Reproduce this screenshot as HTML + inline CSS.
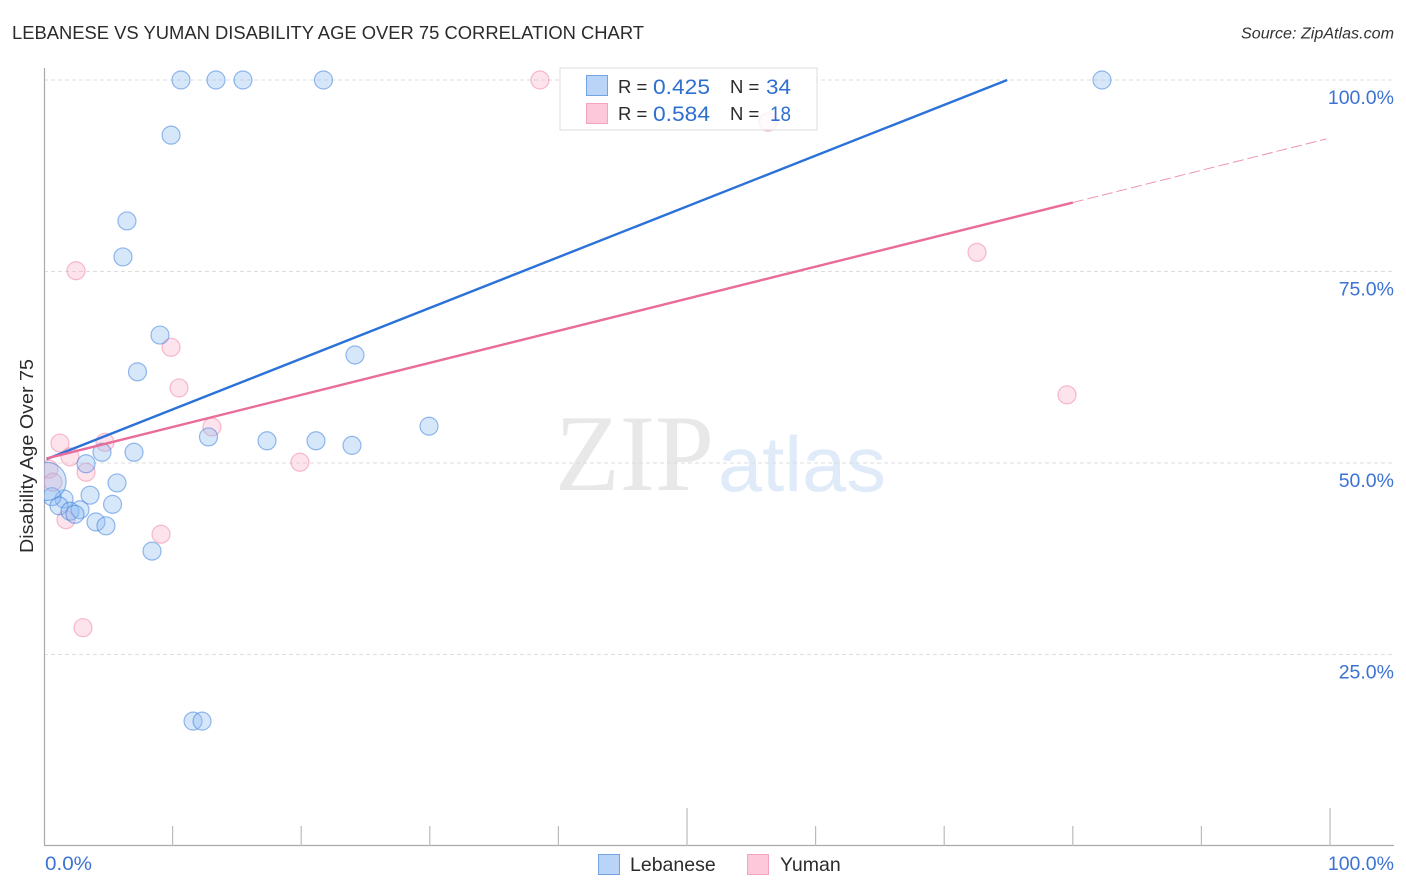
<!DOCTYPE html>
<html lang="en">
<head>
<meta charset="utf-8">
<title>Lebanese vs Yuman Disability Age Over 75 Correlation Chart</title>
<style>
html,body{margin:0;padding:0;background:#fff;}
svg{display:block;font-family:"Liberation Sans",sans-serif;}
</style>
</head>
<body>
<svg id="chart" width="1406" height="892" viewBox="0 0 1406 892" xmlns="http://www.w3.org/2000/svg">
  <defs><clipPath id="plot-clip"><rect x="44" y="60" width="1350" height="786"/></clipPath></defs>
  <text x="12" y="39" font-size="18.6" fill="#2b2b2b" textLength="632" lengthAdjust="spacingAndGlyphs">LEBANESE VS YUMAN DISABILITY AGE OVER 75 CORRELATION CHART</text>
  <text x="1241" y="38.5" font-size="15.5" font-style="italic" fill="#333" textLength="153" lengthAdjust="spacingAndGlyphs">Source: ZipAtlas.com</text>
  <g>
    <text x="555" y="490" font-family="'Liberation Serif',serif" font-size="109" fill="#e8e8e8" textLength="159" lengthAdjust="spacingAndGlyphs">ZIP</text>
    <text x="718" y="491" font-size="78" fill="#e0ebfa" textLength="168" lengthAdjust="spacingAndGlyphs">atlas</text>
  </g>
  <g id="grid"></g>
  <g id="axes"></g>
  <g id="points" clip-path="url(#plot-clip)"></g>
  <g id="trends" clip-path="url(#plot-clip)"></g>
  <text transform="translate(33,456) rotate(-90)" font-size="18" fill="#2b2b2b" text-anchor="middle" textLength="194" lengthAdjust="spacingAndGlyphs">Disability Age Over 75</text>
  <g>
    <rect x="560" y="68" width="257" height="62" fill="#fff" fill-opacity="0.8" stroke="#dcdcdc" stroke-width="1"/>
    <rect x="586.5" y="75.5" width="21" height="20" fill="#b9d4f6" stroke="#72a3e3" stroke-width="1"/>
    <rect x="586.5" y="103.5" width="21" height="20" fill="#fcc8da" stroke="#f3a5bf" stroke-width="1"/>
    <text x="618" y="93" font-size="18.5" fill="#2b2b2b">R =</text>
    <text x="653" y="94" font-size="21" fill="#2f6fd0" textLength="57" lengthAdjust="spacingAndGlyphs">0.425</text>
    <text x="730" y="93" font-size="18.5" fill="#2b2b2b">N =</text>
    <text x="766" y="94" font-size="21" fill="#2f6fd0" textLength="25" lengthAdjust="spacingAndGlyphs">34</text>
    <text x="618" y="120" font-size="18.5" fill="#2b2b2b">R =</text>
    <text x="653" y="121" font-size="21" fill="#2f6fd0" textLength="57" lengthAdjust="spacingAndGlyphs">0.584</text>
    <text x="730" y="120" font-size="18.5" fill="#2b2b2b">N =</text>
    <text x="770" y="121" font-size="21" fill="#2f6fd0" textLength="21" lengthAdjust="spacingAndGlyphs">18</text>
  </g>
  <g>
    <rect x="598.5" y="854.5" width="21" height="20" fill="#b9d4f6" stroke="#72a3e3" stroke-width="1"/>
    <text x="630" y="871" font-size="19.5" fill="#2b2b2b">Lebanese</text>
    <rect x="747.5" y="854.5" width="21" height="20" fill="#fcc8da" stroke="#f3a5bf" stroke-width="1"/>
    <text x="780" y="871" font-size="19.5" fill="#2b2b2b">Yuman</text>
  </g>
</svg>
<script>
const lebaneseX = [10.65,13.37,15.47,21.73,82.27,9.88,6.45,6.14,9.02,24.18,7.27,29.94,12.79,17.34,21.15,23.95,4.51,7.0,3.27,5.68,3.58,1.56,0.62,1.17,5.33,2.02,2.8,2.41,4.04,4.82,8.4,11.59,12.29,0.23];
const lebaneseY = [100,100,100,100,100,92.8,81.6,76.9,66.7,64.1,61.9,54.8,53.4,52.9,52.9,52.3,51.4,51.4,49.9,47.4,45.8,45.3,45.6,44.4,44.6,43.7,43.9,43.3,42.3,41.8,38.5,16.3,16.3,47.6];
const lebaneseWeight = [1,1,1,1,1,1,1,1,1,1,1,1,1,1,1,1,1,1,1,1,1,1,1,1,1,1,1,1,1,1,1,1,1,4.5];
const yumanX = [1.24,4.74,2.02,3.27,0.39,0.7,1.71,13.06,9.1,3.03,2.49,9.88,10.5,19.9,38.57,56.3,72.55,79.55];
const yumanY = [52.6,52.7,50.8,48.8,49.2,47.5,42.6,54.7,40.7,28.5,75.1,65.1,59.8,50.1,100,94.5,77.5,58.9];
const lebaneseTrendX = [0.2,74.9];
const lebaneseTrendY = [50.5,100];
const yumanTrendX = [0.2,80];
const yumanTrendY = [50.6,84];
const yumanForecastX = [80,99.7];
const yumanForecastY = [84,92.3];
const yTicks = [100,75,50,25];
const yTickLabels = ['100.0%','75.0%','50.0%','25.0%'];
const xTicks = [10,20,30,40,50,60,70,80,90,100];
const xMajorTicks = [50,100];
const xEndLabels = ['0.0%','100.0%'];

const NS = 'http://www.w3.org/2000/svg';
const xScale = v => 44 + v * 12.86;
const yScale = v => 846 - v * 7.66;
function make(parent, tag, attrs) {
  const el = document.createElementNS(NS, tag);
  for (const k in attrs) el.setAttribute(k, attrs[k]);
  parent.appendChild(el);
  return el;
}
const grid = document.getElementById('grid');
const axes = document.getElementById('axes');
const points = document.getElementById('points');
const trends = document.getElementById('trends');

yTicks.forEach((t, i) => {
  const line = make(grid, 'line', {x1: 44, x2: 1394, y1: yScale(t), y2: yScale(t), stroke: '#dddddd', 'stroke-width': 1, 'stroke-dasharray': '4 3'});
  
  
  const label = make(axes, 'text', {x: 1394, y: yScale(t) + 24, 'font-size': 19.5, fill: '#3b72d3', 'text-anchor': 'end'});
  
  
  label.textContent = yTickLabels[i];
});

const yAxis = make(axes, 'line', {x1: 44.5, x2: 44.5, y1: 68, y2: 846, stroke: '#aaaaaa', 'stroke-width': 1.2});


const xAxis = make(axes, 'line', {x1: 44, x2: 1394, y1: 845.5, y2: 845.5, stroke: '#aaaaaa', 'stroke-width': 1.2});



xTicks.forEach(t => {
  const len = xMajorTicks.includes(t) ? 38 : 20;
  const tick = make(axes, 'line', {x1: xScale(t), x2: xScale(t), y1: 846 - len, y2: 846, stroke: '#bbbbbb', 'stroke-width': 1.2});
  
  
});

const xStart = make(axes, 'text', {x: 45, y: 870, 'font-size': 19.5, fill: '#3b72d3', textLength: 47, lengthAdjust: 'spacingAndGlyphs'});


xStart.textContent = xEndLabels[0];
const xEnd = make(axes, 'text', {x: 1394, y: 870, 'font-size': 19.5, fill: '#3b72d3', 'text-anchor': 'end'});


xEnd.textContent = xEndLabels[1];

yumanX.forEach((v, i) => {
  const c = make(points, 'circle', {cx: xScale(v), cy: yScale(yumanY[i]), r: 9, fill: 'rgba(250,170,195,0.33)', stroke: 'rgba(240,125,160,0.5)', 'stroke-width': 1.2});
  
  
});
lebaneseX.forEach((v, i) => {
  const c = make(points, 'circle', {cx: xScale(v), cy: yScale(lebaneseY[i]), r: 9 * Math.sqrt(lebaneseWeight[i]), fill: 'rgba(140,185,240,0.35)', stroke: 'rgba(50,120,220,0.5)', 'stroke-width': 1.2});
  
  
});

const blueTrend = make(trends, 'line', {x1: xScale(lebaneseTrendX[0]), y1: yScale(lebaneseTrendY[0]), x2: xScale(lebaneseTrendX[1]), y2: yScale(lebaneseTrendY[1]), stroke: '#2b72d8', 'stroke-width': 2.4});


const pinkForecast = make(trends, 'line', {x1: xScale(yumanForecastX[0]), y1: yScale(yumanForecastY[0]), x2: xScale(yumanForecastX[1]), y2: yScale(yumanForecastY[1]), stroke: '#e8799f', 'stroke-opacity': 0.8, 'stroke-width': 1, 'stroke-dasharray': '11 4'});


const pinkTrend = make(trends, 'line', {x1: xScale(yumanTrendX[0]), y1: yScale(yumanTrendY[0]), x2: xScale(yumanTrendX[1]), y2: yScale(yumanTrendY[1]), stroke: '#e96c9a', 'stroke-width': 2.4});


</script>
</body>
</html>
